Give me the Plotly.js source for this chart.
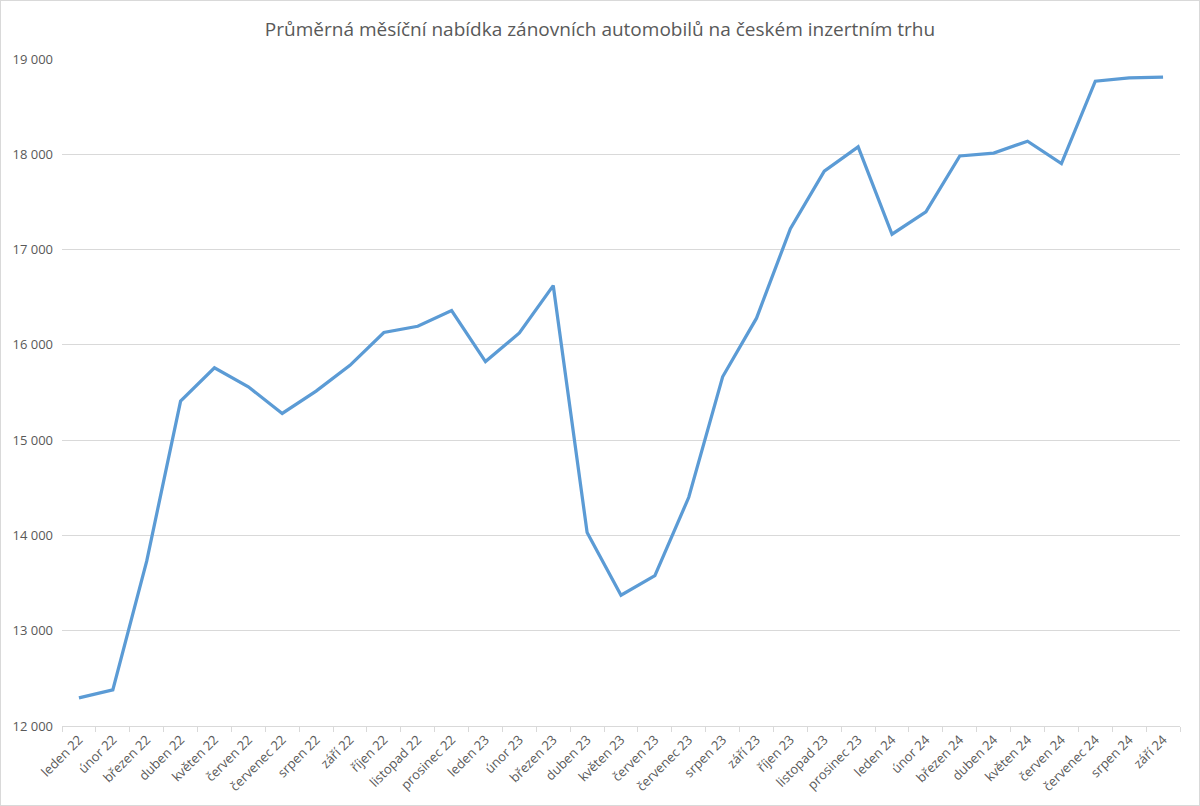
<!DOCTYPE html>
<html>
<head>
<meta charset="utf-8">
<script src="https://cdn.plot.ly/plotly-3.0.1.min.js"></script>
<style>
  html, body { margin: 0; padding: 0; background: #ffffff; }
  #chart { width: 1200px; height: 806px; box-sizing: border-box; border: 1px solid #d9d9d9; }
</style>
</head>
<body>
<div id="chart"></div>
<script>
const months = [
  "leden 22","únor 22","březen 22","duben 22","květen 22","červen 22","červenec 22","srpen 22","září 22","říjen 22","listopad 22","prosinec 22",
  "leden 23","únor 23","březen 23","duben 23","květen 23","červen 23","červenec 23","srpen 23","září 23","říjen 23","listopad 23","prosinec 23",
  "leden 24","únor 24","březen 24","duben 24","květen 24","červen 24","červenec 24","srpen 24","září 24"
];
const offers = [
  12295, 12380, 13730, 15410, 15760, 15560, 15280, 15515, 15785, 16130, 16195, 16360,
  15825, 16125, 16622, 14030, 13373, 13577, 14400, 15665, 16280, 17220, 17823, 18078,
  17161, 17395, 17982, 18012, 18137, 17903, 18767, 18802, 18811
];
const chartTitle = "Průměrná měsíční nabídka zánovních automobilů na českém inzertním trhu";
const yTicks = [12000, 13000, 14000, 15000, 16000, 17000, 18000, 19000];

const trace = {
  type: "scatter",
  mode: "lines",
  x: months,
  y: offers,
  line: { color: "#5B9BD5", width: 3.25 },
  hoverinfo: "x+y"
};

const layout = {
  width: 1198,
  height: 804,
  paper_bgcolor: "#ffffff",
  plot_bgcolor: "#ffffff",
  separators: ", ",
  font: { family: "Open Sans, Liberation Sans, sans-serif", color: "#595959", size: 13 },
  title: {
    text: chartTitle,
    x: 0.5, xanchor: "center", xref: "container",
    y: 1 - 28 / 804, yanchor: "middle", yref: "container",
    font: { size: 19, color: "#595959", family: "Open Sans, sans-serif" }
  },
  margin: { l: 61, r: 19, t: 58, b: 79, autoexpand: false },
  showlegend: false,
  xaxis: {
    type: "category",
    range: [-0.5, months.length - 0.5],
    tickangle: -45,
    tickson: "boundaries",
    ticks: "outside",
    ticklen: 5,
    tickcolor: "#d9d9d9",
    showline: true,
    linecolor: "#d9d9d9",
    linewidth: 1,
    showgrid: false,
    automargin: false,
    tickfont: { size: 13, color: "#595959" }
  },
  yaxis: {
    range: [12000, 19000],
    tickvals: yTicks,
    tickformat: ",d",
    showgrid: true,
    gridcolor: "#d9d9d9",
    gridwidth: 1,
    zeroline: false,
    showline: false,
    ticks: "",
    ticklabelstandoff: 8,
    automargin: false,
    tickfont: { size: 13, color: "#595959" }
  }
};

Plotly.newPlot("chart", [trace], layout, { displayModeBar: false, staticPlot: true });
</script>
</body>
</html>
